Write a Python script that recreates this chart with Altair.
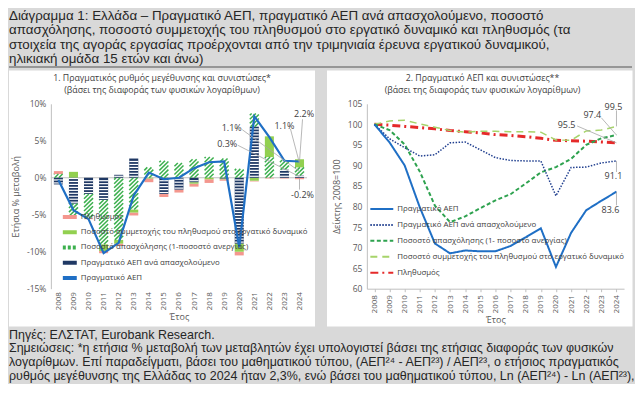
import altair as alt
import pandas as pd

# ---------------- data ----------------
years = list(range(2008, 2025))

# Left panel: annual % change (log differences)
gdp_growth = [-0.3, -4.4, -5.6, -10.2, -8.8, -2.4, 0.7, -0.2, 0.0, 1.3, 2.1, 2.2, -9.4, 8.3, 5.5, 2.3, 2.2]
prod_growth = [-0.9, -3.5, -2.2, -3.0, 0.4, 2.6, 0.0, -2.2, -1.6, -0.6, 0.0, -0.1, -8.9, 6.9, 0.0, 1.1, 0.3]
emp_growth = [0.5, -1.6, -3.3, -6.0, -8.4, -4.3, 1.4, 2.3, 2.0, 2.5, 2.8, 2.6, 1.2, 1.8, 2.8, 1.3, 1.1]
part_growth = [0.0, 0.8, 0.0, -0.9, -0.5, -0.4, -0.1, 0.0, 0.0, -0.2, -0.2, -0.1, -1.1, -0.4, 2.8, 0.0, 1.1]
pop_growth = [0.4, 0.0, -0.1, -0.3, -0.3, -0.4, -0.5, -0.4, -0.4, -0.4, -0.5, -0.2, -0.5, -0.1, -0.1, -0.1, -0.2]

# Right panel: index 2008=100
gdp_idx = [100, 95.6, 90.0, 79.8, 71.0, 68.6, 69.3, 69.1, 69.1, 70.4, 72.5, 74.7, 65.3, 73.6, 79.1, 81.4, 83.6]
prod_idx = [100, 96.5, 94.3, 92.3, 92.6, 95.5, 95.7, 93.8, 91.9, 91.2, 91.1, 91.1, 82.6, 89.5, 89.6, 90.6, 91.1]
emp_idx = [100, 98.6, 95.1, 88.5, 80.2, 76.2, 77.6, 79.6, 81.5, 83.0, 85.6, 88.3, 89.6, 91.6, 95.0, 96.6, 97.4]
part_idx = [100, 100.8, 101.0, 100.1, 99.3, 98.5, 98.1, 98.3, 98.3, 98.2, 98.2, 98.1, 96.2, 96.1, 98.4, 98.6, 99.5]
pop_idx = [100, 99.8, 99.5, 99.2, 98.9, 98.5, 98.2, 97.9, 97.5, 97.3, 97.0, 96.6, 96.1, 96.0, 95.9, 95.7, 95.5]

left_series = [
    "Πληθυσμός",
    "Ποσοστό συμμετοχής του πληθυσμού στο εργατικό δυναμικό",
    "Ποσοστό απασχόλησης (1-ποσοστό ανεργίας)",
    "Πραγματικό ΑΕΠ ανά απασχολούμενο",
    "Πραγματικό ΑΕΠ",
]
right_series = [
    "Πραγματικό ΑΕΠ",
    "Πραγματικό ΑΕΠ ανά απασχολούμενο",
    "Ποσοστό απασχόλησης (1- ποσοστό ανεργίας)",
    "Ποσοστό συμμετοχής του πληθυσμού στο εργατικό δυναμικό",
    "Πληθυσμός",
]

# annotations (label text, label position, leader start)
left_ann_text = ["1.1%", "0.3%", "1.1%", "2.2%", "-0.2%"]
left_ann_comp = ["emp", "prod", "part", "gdp", "pop"]
left_ann_x = [2019.5, 2019.2, 2023.0, 2024.3, 2024.2]
left_ann_y = [6.7, 4.6, 7.0, 8.6, -2.3]
left_lead_x = [2020.2, 2019.9, 2023.4, 2024.2, 2024.0]
left_lead_y = [6.5, 4.4, 6.6, 7.9, -1.6]

right_ann_text = ["99.5", "97.4", "95.5", "91.1", "83.6"]
right_ann_x = [2023.8, 2022.4, 2020.7, 2023.8, 2023.6]
right_ann_y = [104.2, 102.3, 99.9, 87.4, 79.2]
right_lead_x = [2024.0, 2023.0, 2021.4, 2024.0, 2024.0]
right_lead_y = [103.4, 101.6, 99.6, 88.4, 80.3]

title_lines = [
    "Διάγραμμα 1: Ελλάδα – Πραγματικό ΑΕΠ, πραγματικό ΑΕΠ ανά απασχολούμενο, ποσοστό",
    "απασχόλησης, ποσοστό συμμετοχής του πληθυσμού στο εργατικό δυναμικό και πληθυσμός (τα",
    "στοιχεία της αγοράς εργασίας προέρχονται από την τριμηνιαία έρευνα εργατικού δυναμικού,",
    "ηλικιακή ομάδα 15 ετών και άνω)",
]
left_title = ["1. Πραγματικός ρυθμός μεγέθυνσης και συνιστώσες*",
              "(βάσει της διαφοράς των φυσικών λογαρίθμων)"]
right_title = ["2. Πραγματικό ΑΕΠ και συνιστώσες**",
               "(βάσει της διαφοράς των φυσικών λογαρίθμων)"]
foot_lines = [
    "Πηγές: ΕΛΣΤΑΤ, Eurobank Research.",
    "Σημειώσεις: *η ετήσια % μεταβολή των μεταβλητών έχει υπολογιστεί βάσει της ετήσιας διαφοράς των φυσικών",
    "λογαρίθμων. Επί παραδείγματι, βάσει του μαθηματικού τύπου, (ΑΕΠ²⁴ - ΑΕΠ²³) / ΑΕΠ²³, ο ετήσιος πραγματικός",
    "ρυθμός μεγέθυνσης της Ελλάδας το 2024 ήταν 2,3%, ενώ βάσει του μαθηματικού τύπου, Ln (ΑΕΠ²⁴) - Ln (ΑΕΠ²³),",
]

# ---------------- styles ----------------
FONT = "Open Sans"
TFONT = "Liberation Sans"
GREY = "#595959"
TXT = "#404040"
DARK = "#262626"
PINK = "#f4978e"
LGREEN = "#92d050"
GREEN = "#3cb04e"
NAVY = "#1f3864"
BLUE = "#1f6fc5"
R_COLORS = [BLUE, "#203f8f", "#2ea24f", "#a6d46a", "#e52a2a"]
R_DASH = [[1, 0], [1.5, 1.5], [4, 2.5], [7, 5], [8, 4, 2, 4]]
R_WIDTH = [2.0, 1.5, 2.0, 1.5, 3.0]

LDOM = [-15, 10]
RDOM = [60, 105]
PANEL_TOP = -33.5
PANEL_BOTTOM = 223.5
LEFT_EXT = 42          # room left of the left plot (axis labels and title)
FULL_W = 625


def xq(field, axis=None):
    kw = {} if axis is None else {"axis": axis}
    return alt.X(field, type="quantitative",
                 scale=alt.Scale(domain=[2007.5, 2024.5], nice=False, zero=False), **kw)


def yq(field, dom, axis=None):
    kw = {} if axis is None else {"axis": axis}
    return alt.Y(field, type="quantitative",
                 scale=alt.Scale(domain=dom, nice=False, zero=False), **kw)


def x_axis(with_line):
    return alt.Axis(values=years, tickCount=40, format="d", labelAngle=-90, labelFontSize=8,
                    labelColor=GREY, labelFont=FONT, labelOverlap=False, labelFlush=False,
                    domain=with_line, domainColor="#bfbfbf", ticks=with_line, tickColor="#bfbfbf",
                    tickSize=3, labelPadding=3, grid=False, title="Έτος", titleFont=FONT,
                    titleFontSize=9, titleFontWeight="normal", titleColor=GREY, titlePadding=3, zindex=1)


def y_axis(values, label_expr, title):
    return alt.Axis(values=values, tickCount=40, labelExpr=label_expr, labelFontSize=8.5,
                    labelColor=GREY, labelFont=FONT, labelFlush=False, labelOverlap=False,
                    domain=True, domainColor="#bfbfbf", ticks=False, labelPadding=5, grid=False,
                    title=title, titleFont=FONT, titleFontSize=9, titleFontWeight="normal",
                    titleColor=GREY, titlePadding=6, zindex=1)


one = pd.DataFrame({"z": [0]})


def panel_heading(lines, cx):
    return alt.Chart(one).mark_text(text=lines, lineHeight=12, baseline="top", align="center",
                                    font=FONT, fontSize=8.8, color=TXT).encode(
        x=alt.value(cx), y=alt.value(-29.5))


# ---------------- left panel ----------------
comp_keys = ["prod", "emp", "part", "pop"]
comp_vals = [prod_growth, emp_growth, part_growth, pop_growth]
rows = []
for i, yr in enumerate(years):
    pos = neg = 0.0
    for key, arr in zip(comp_keys, comp_vals):
        v = arr[i]
        if v >= 0:
            lo, hi = pos, pos + v
            pos += v
        else:
            lo, hi = neg + v, neg
            neg += v
        rows.append({"year": yr, "comp": key, "value": v, "lo": lo, "hi": hi})
stack_df = pd.DataFrame(rows)

gdp_df = pd.DataFrame({"year": years, "g": gdp_growth})

axis_l = alt.Chart(gdp_df).mark_point(opacity=0).encode(
    x=xq("year", axis=x_axis(False)),
    y=yq("g", LDOM, axis=y_axis([-15, -10, -5, 0, 5, 10], "datum.value + '%'", "Ετήσια % μεταβολή")))

panel_l = alt.Chart(one).mark_rect(fill="white").encode(
    x=alt.value(-LEFT_EXT), x2=alt.value(265), y=alt.value(PANEL_TOP), y2=alt.value(PANEL_BOTTOM))
zero_l = alt.Chart(one).mark_rule(color="#bfbfbf", strokeWidth=1).encode(y=yq("z", LDOM))

bar_base = alt.Chart(stack_df).transform_calculate(xa="datum.year - 0.3", xb="datum.year + 0.3")


def bar_layer(key, fill):
    return bar_base.transform_filter(f"datum.comp == '{key}'").mark_rect(fill=fill).encode(
        x=xq("xa"), x2="xb:Q", y=yq("lo", LDOM), y2="hi:Q")


pop_bars = bar_layer("pop", PINK)
part_bars = bar_layer("part", LGREEN)
prod_bars = bar_layer("prod", NAVY)

stripes = (bar_base.transform_filter("datum.comp == 'prod'")
           .transform_calculate(s="sequence(datum.lo + 0.2, datum.hi - 0.05, 0.4)")
           .transform_flatten(["s"])
           .mark_rule(color="white", strokeWidth=1.2)
           .encode(x=xq("xa"), x2="xb:Q", y=yq("s", LDOM)))

D = 1.2
STEP = 0.55
hatch = (bar_base.transform_filter("datum.comp == 'emp'")
         .transform_calculate(t=f"sequence(datum.lo - {D}, datum.hi, {STEP})")
         .transform_flatten(["t"])
         .transform_calculate(ta="max(datum.t, datum.lo)")
         .transform_calculate(tb=f"min(datum.t + {D}, datum.hi)")
         .transform_filter("datum.tb - datum.ta > 0.03")
         .transform_calculate(h1=f"datum.xa + 0.6 * (datum.ta - datum.t) / {D}")
         .transform_calculate(h2=f"datum.xa + 0.6 * (datum.tb - datum.t) / {D}")
         .mark_rule(color=GREEN, strokeWidth=1.5)
         .encode(x=xq("h1"), x2="h2:Q", y=yq("ta", LDOM), y2="tb:Q"))

gdp_line = alt.Chart(gdp_df).mark_line(color=BLUE, strokeWidth=2.2).encode(
    x=xq("year"), y=yq("g", LDOM))

last = stack_df[stack_df["year"] == years[-1]].set_index("comp")
ends_l = []
for c in left_ann_comp:
    if c == "gdp":
        ends_l.append(gdp_growth[-1])
    else:
        ends_l.append((last.loc[c, "lo"] + last.loc[c, "hi"]) / 2)
lead_l_df = pd.DataFrame({"x1": left_lead_x, "y1": left_lead_y, "x2": [years[-1]] * 5, "y2": ends_l})
lead_l = alt.Chart(lead_l_df).mark_rule(color="#a6a6a6", strokeWidth=0.8).encode(
    x=xq("x1"), y=yq("y1", LDOM), x2="x2:Q", y2="y2:Q")
ann_l_df = pd.DataFrame({"x": left_ann_x, "y": left_ann_y, "t": left_ann_text})
ann_l = alt.Chart(ann_l_df).mark_text(font=FONT, fontSize=9, color=TXT).encode(
    x=xq("x"), y=yq("y", LDOM), text="t:N")

LEG_L = alt.Legend(orient="none", legendX=10, legendY=106, title=None, symbolType="stroke",
                   symbolSize=196, symbolStrokeWidth=4, clipHeight=15, rowPadding=0.3,
                   labelFont=FONT, labelFontSize=7.9, labelColor=TXT, labelOffset=2,
                   labelLimit=400, padding=0)
leg_df = pd.DataFrame({"series": left_series, "year": [years[0]] * 5, "v": [0.0] * 5})
leg_l = alt.Chart(leg_df).mark_line().encode(
    x=xq("year"), y=yq("v", LDOM),
    color=alt.Color("series:N", scale=alt.Scale(domain=left_series,
                                                range=[PINK, LGREEN, GREEN, NAVY, BLUE]), legend=LEG_L),
    strokeDash=alt.StrokeDash("series:N", scale=alt.Scale(
        domain=left_series, range=[[1, 0], [1, 0], [3, 2], [1, 0], [1, 0]]), legend=LEG_L))

left = alt.layer(axis_l, panel_l, zero_l, pop_bars, part_bars, prod_bars, stripes, hatch, gdp_line,
                 lead_l, ann_l, leg_l, panel_heading(left_title, 111.5)).properties(
    width=257, height=185.5)

# ---------------- right panel ----------------
r_rows = []
for name, arr in zip(right_series, [gdp_idx, prod_idx, emp_idx, part_idx, pop_idx]):
    for yr, v in zip(years, arr):
        r_rows.append({"series": name, "year": yr, "v": v})
right_df = pd.DataFrame(r_rows)

axis_r = alt.Chart(right_df).mark_point(opacity=0).encode(
    x=xq("year", axis=x_axis(True)),
    y=yq("v", RDOM, axis=y_axis(list(range(60, 110, 5)), "datum.value", "Δείκτης 2008=100")))

panel_r = alt.Chart(one).mark_rect(fill="white").encode(
    x=alt.value(-40), x2=alt.value(266.5), y=alt.value(PANEL_TOP), y2=alt.value(PANEL_BOTTOM))

LEG_R = alt.Legend(orient="none", legendX=2.5, legendY=97.5, title=None, symbolType="stroke",
                   symbolSize=529, symbolStrokeWidth=2, clipHeight=16, rowPadding=0,
                   labelFont=FONT, labelFontSize=7.9, labelColor=TXT, labelOffset=3,
                   labelLimit=400, padding=0)
CS_R = alt.Scale(domain=right_series, range=R_COLORS)
DS_R = alt.Scale(domain=right_series, range=R_DASH)

r_lines = []
for k in reversed(range(len(right_series))):
    name = right_series[k]
    r_lines.append(alt.Chart(right_df).transform_filter(
        alt.FieldEqualPredicate(field="series", equal=name)).mark_line(strokeWidth=R_WIDTH[k]).encode(
        x=xq("year"), y=yq("v", RDOM),
        color=alt.Color("series:N", scale=CS_R, legend=LEG_R),
        strokeDash=alt.StrokeDash("series:N", scale=DS_R, legend=LEG_R)))

ends_r = [arr[-1] for arr in [part_idx, emp_idx, pop_idx, prod_idx, gdp_idx]]
lead_r_df = pd.DataFrame({"x1": right_lead_x, "y1": right_lead_y, "x2": [years[-1]] * 5, "y2": ends_r})
lead_r = alt.Chart(lead_r_df).mark_rule(color="#a6a6a6", strokeWidth=0.8).encode(
    x=xq("x1"), y=yq("y1", RDOM), x2="x2:Q", y2="y2:Q")
ann_r_df = pd.DataFrame({"x": right_ann_x, "y": right_ann_y, "t": right_ann_text})
ann_r = alt.Chart(ann_r_df).mark_text(font=FONT, fontSize=9, color=TXT).encode(
    x=xq("x"), y=yq("y", RDOM), text="t:N")

right = alt.layer(axis_r, panel_r, *r_lines, lead_r, ann_r, panel_heading(right_title, 116)).properties(
    width=258, height=185.5)

# ---------------- composition ----------------
panels = alt.hconcat(left, right, spacing=12).resolve_scale(
    color="independent", strokeDash="independent").resolve_legend(
    color="independent", strokeDash="independent")

# header/footer: text starts at the panels' left edge (LEFT_EXT left of the plot origin)
head_text = alt.Chart(one).mark_text(text=title_lines, lineHeight=14.6, baseline="top", align="left",
                                     font=TFONT, fontSize=13.4, color=DARK).encode(
    x=alt.value(-LEFT_EXT), y=alt.value(0))
head_rule = alt.Chart(one).mark_rule(color="#7f7f7f", strokeWidth=1.5).encode(
    x=alt.value(-LEFT_EXT), x2=alt.value(FULL_W - LEFT_EXT), y=alt.value(58.5))
header = alt.layer(head_text, head_rule).properties(width=500, height=59)

footer = alt.Chart(one).mark_text(text=foot_lines, lineHeight=14, baseline="top", align="left",
                                  font=TFONT, fontSize=12.5, color=DARK).encode(
    x=alt.value(-LEFT_EXT), y=alt.value(0)).properties(width=500, height=55)

chart = alt.vconcat(header, panels, footer, spacing=1.5).properties(padding=0).configure(
    background="#d9d9d9").configure_view(stroke=None).configure_axis(labelOverlap=False)

chart.save("out.html", embed_options={"renderer": "svg", "actions": False})
